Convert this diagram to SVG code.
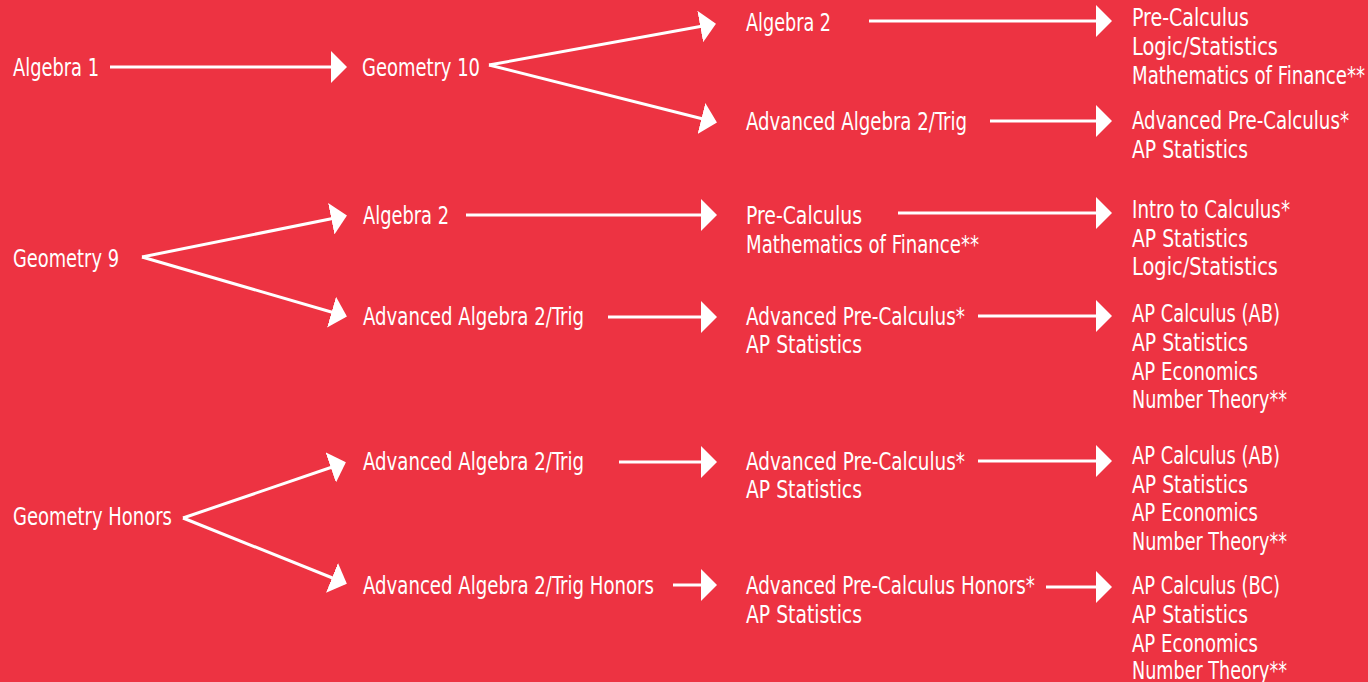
<svg xmlns="http://www.w3.org/2000/svg" width="1368" height="682" viewBox="0 0 1368 682">
<style>
text{font-family:"Liberation Sans Narrow","DejaVu Sans Condensed","Liberation Sans",sans-serif;font-stretch:condensed;font-size:25px;fill:#fff}
.c{stroke:#fff;stroke-width:3;fill:none}
</style>
<defs>
<marker id="ah" viewBox="0 0 16 32" refX="14" refY="16" markerWidth="16" markerHeight="32" markerUnits="userSpaceOnUse" orient="auto">
<path d="M0,0 L16,16 L0,32 Z" fill="#fff"/>
</marker>
</defs>
<rect width="1368" height="682" fill="#ED3342"/>
<g id="connectors" class="c">
<path d="M110,67 L345,67" marker-end="url(#ah)"/>
<path d="M489,65 L714,24" marker-end="url(#ah)"/>
<path d="M489,65 L715,122" marker-end="url(#ah)"/>
<path d="M869,21 L1110,21" marker-end="url(#ah)"/>
<path d="M990,121 L1110,121" marker-end="url(#ah)"/>
<path d="M142,257 L345,216" marker-end="url(#ah)"/>
<path d="M142,257 L345,316" marker-end="url(#ah)"/>
<path d="M466,215 L715,215" marker-end="url(#ah)"/>
<path d="M898,213 L1110,213" marker-end="url(#ah)"/>
<path d="M608,317 L715,317" marker-end="url(#ah)"/>
<path d="M978,316 L1110,316" marker-end="url(#ah)"/>
<path d="M183,518 L344,463" marker-end="url(#ah)"/>
<path d="M183,518 L345,583" marker-end="url(#ah)"/>
<path d="M619,462 L715,462" marker-end="url(#ah)"/>
<path d="M978,461 L1110,461" marker-end="url(#ah)"/>
<path d="M673,585 L715,585" marker-end="url(#ah)"/>
<path d="M1046,587 L1110,587" marker-end="url(#ah)"/>
</g>
<g id="n-alg1"><text x="13" y="76" textLength="86" lengthAdjust="spacingAndGlyphs">Algebra 1</text></g>
<g id="n-geo10"><text x="362" y="76" textLength="118" lengthAdjust="spacingAndGlyphs">Geometry 10</text></g>
<g id="n-r1-alg2"><text x="746" y="31" textLength="85" lengthAdjust="spacingAndGlyphs">Algebra 2</text></g>
<g id="n-r1-adv"><text x="746" y="130" textLength="221" lengthAdjust="spacingAndGlyphs">Advanced Algebra 2/Trig</text></g>
<g id="n-r1-out1">
<text x="1132" y="26" textLength="117" lengthAdjust="spacingAndGlyphs">Pre-Calculus</text>
<text x="1132" y="55" textLength="146" lengthAdjust="spacingAndGlyphs">Logic/Statistics</text>
<text x="1132" y="84" textLength="233" lengthAdjust="spacingAndGlyphs">Mathematics of Finance**</text>
</g>
<g id="n-r1-out2">
<text x="1132" y="129" textLength="217" lengthAdjust="spacingAndGlyphs">Advanced Pre-Calculus*</text>
<text x="1132" y="158" textLength="116" lengthAdjust="spacingAndGlyphs">AP Statistics</text>
</g>
<g id="n-geo9"><text x="13" y="267" textLength="106" lengthAdjust="spacingAndGlyphs">Geometry 9</text></g>
<g id="n-r2-alg2"><text x="363" y="224" textLength="86" lengthAdjust="spacingAndGlyphs">Algebra 2</text></g>
<g id="n-r2-adv"><text x="363" y="325" textLength="221" lengthAdjust="spacingAndGlyphs">Advanced Algebra 2/Trig</text></g>
<g id="n-r2-pre">
<text x="746" y="224" textLength="116" lengthAdjust="spacingAndGlyphs">Pre-Calculus</text>
<text x="746" y="253" textLength="233" lengthAdjust="spacingAndGlyphs">Mathematics of Finance**</text>
</g>
<g id="n-r2-out1">
<text x="1132" y="218" textLength="158" lengthAdjust="spacingAndGlyphs">Intro to Calculus*</text>
<text x="1132" y="247" textLength="116" lengthAdjust="spacingAndGlyphs">AP Statistics</text>
<text x="1132" y="275" textLength="146" lengthAdjust="spacingAndGlyphs">Logic/Statistics</text>
</g>
<g id="n-r2-advpre">
<text x="746" y="325" textLength="219" lengthAdjust="spacingAndGlyphs">Advanced Pre-Calculus*</text>
<text x="746" y="353" textLength="116" lengthAdjust="spacingAndGlyphs">AP Statistics</text>
</g>
<g id="n-r2-out2">
<text x="1132" y="322" textLength="148" lengthAdjust="spacingAndGlyphs">AP Calculus (AB)</text>
<text x="1132" y="351" textLength="116" lengthAdjust="spacingAndGlyphs">AP Statistics</text>
<text x="1132" y="380" textLength="126" lengthAdjust="spacingAndGlyphs">AP Economics</text>
<text x="1132" y="408" textLength="155" lengthAdjust="spacingAndGlyphs">Number Theory**</text>
</g>
<g id="n-geoh"><text x="13" y="525" textLength="159" lengthAdjust="spacingAndGlyphs">Geometry Honors</text></g>
<g id="n-r3-adv"><text x="363" y="470" textLength="221" lengthAdjust="spacingAndGlyphs">Advanced Algebra 2/Trig</text></g>
<g id="n-r3-advh"><text x="363" y="594" textLength="291" lengthAdjust="spacingAndGlyphs">Advanced Algebra 2/Trig Honors</text></g>
<g id="n-r3-advpre">
<text x="746" y="470" textLength="219" lengthAdjust="spacingAndGlyphs">Advanced Pre-Calculus*</text>
<text x="746" y="498" textLength="116" lengthAdjust="spacingAndGlyphs">AP Statistics</text>
</g>
<g id="n-r3-out1">
<text x="1132" y="464" textLength="148" lengthAdjust="spacingAndGlyphs">AP Calculus (AB)</text>
<text x="1132" y="493" textLength="116" lengthAdjust="spacingAndGlyphs">AP Statistics</text>
<text x="1132" y="521" textLength="126" lengthAdjust="spacingAndGlyphs">AP Economics</text>
<text x="1132" y="550" textLength="155" lengthAdjust="spacingAndGlyphs">Number Theory**</text>
</g>
<g id="n-r3-advpreh">
<text x="746" y="594" textLength="289" lengthAdjust="spacingAndGlyphs">Advanced Pre-Calculus Honors*</text>
<text x="746" y="623" textLength="116" lengthAdjust="spacingAndGlyphs">AP Statistics</text>
</g>
<g id="n-r3-out2">
<text x="1132" y="594" textLength="148" lengthAdjust="spacingAndGlyphs">AP Calculus (BC)</text>
<text x="1132" y="623" textLength="116" lengthAdjust="spacingAndGlyphs">AP Statistics</text>
<text x="1132" y="652" textLength="126" lengthAdjust="spacingAndGlyphs">AP Economics</text>
<text x="1132" y="679" textLength="155" lengthAdjust="spacingAndGlyphs">Number Theory**</text>
</g>
</svg>
